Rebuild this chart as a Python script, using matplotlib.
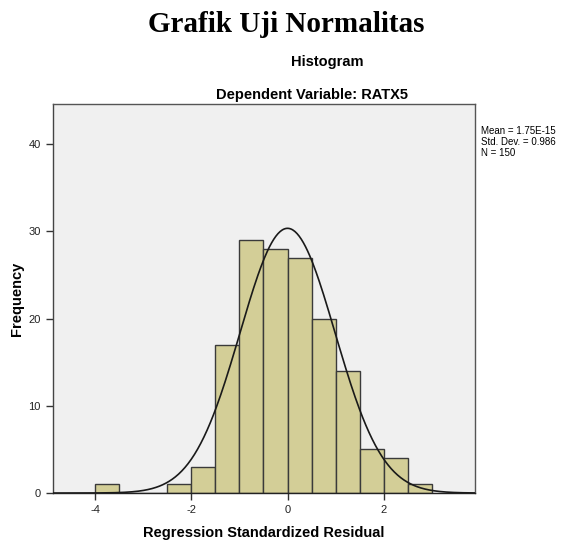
import numpy as np
import matplotlib
matplotlib.use("Agg")
import matplotlib.pyplot as plt

# histogram bins (left edges) and counts
bin_left = [-4.0, -3.5, -3.0, -2.5, -2.0, -1.5, -1.0, -0.5, 0.0, 0.5, 1.0, 1.5, 2.0, 2.5]
counts = [1, 0, 0, 1, 3, 17, 29, 28, 27, 20, 14, 5, 4, 1]
bin_width = 0.5

# stats shown in the legend box
mean = 1.75e-15
std = 0.986
n = 150

xticks = [-4, -2, 0, 2]
yticks = [0, 10, 20, 30, 40]

plt.rcParams['font.family'] = ['Liberation Sans', 'DejaVu Sans']
plt.rcParams['axes.unicode_minus'] = False

fig = plt.figure(figsize=(5.68, 5.43), dpi=100)
ax = fig.add_axes([0.0928, 0.092, 0.743, 0.7165])
ax.set_facecolor('#f0f0f0')

# bars
ax.bar(bin_left, counts, width=bin_width, align='edge',
       color='#d3ce97', edgecolor='#3a3a3a', linewidth=1.0, zorder=2)

# fitted normal curve
xs = np.linspace(-4.88, 3.89, 400)
ys = n * bin_width * np.exp(-0.5 * ((xs - mean) / std) ** 2) / (std * np.sqrt(2 * np.pi))
ax.plot(xs, ys, color='#1a1a1a', linewidth=1.2, zorder=3)

ax.set_xlim(-4.88, 3.89)
ax.set_ylim(0, 44.6)
ax.set_xticks(xticks)
ax.set_yticks(yticks)
ax.tick_params(direction='out', length=5, width=1, color='#333333',
               labelsize=8, labelcolor='#222222')
for s in ax.spines.values():
    s.set_color('#555555')
    s.set_linewidth(1)
ax.spines['bottom'].set_color('#222222')
ax.spines['left'].set_color('#444444')

ax.set_xlabel('Regression Standardized Residual', fontsize=10.5, fontweight='bold', labelpad=8)
ax.set_ylabel('Frequency', fontsize=10.5, fontweight='bold', labelpad=3)

# titles
fig.text(286 / 568, 1 - 25 / 543, 'Grafik Uji Normalitas', ha='center', va='center',
         fontsize=21, fontweight='bold', family=['Liberation Serif', 'DejaVu Serif'])
fig.text(327 / 568, 1 - 62 / 543, 'Histogram', ha='center', va='center',
         fontsize=10.5, fontweight='bold')
fig.text(312 / 568, 1 - 95 / 543, 'Dependent Variable: RATX5', ha='center', va='center',
         fontsize=10.5, fontweight='bold')

# stats box text
fig.text(481 / 568, 1 - 126 / 543,
         'Mean = 1.75E-15\nStd. Dev. = 0.986\nN = {}'.format(n),
         ha='left', va='top', fontsize=7, linespacing=1.1)

fig.savefig('out.png', dpi=100)
